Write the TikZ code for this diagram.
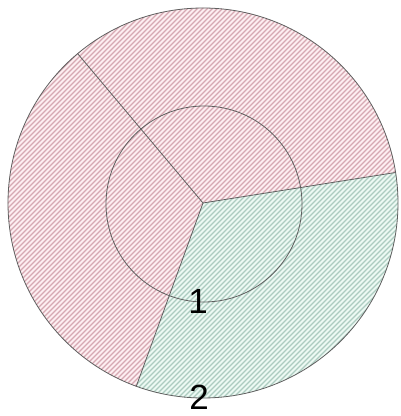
\documentclass[tikz,border=0pt]{standalone}
\usepackage{fontspec}
\setmainfont{Liberation Sans}
\usetikzlibrary{calc}
\definecolor{redbg}{RGB}{253,238,241}
\definecolor{redln}{RGB}{214,168,178}
\definecolor{grnbg}{RGB}{236,249,243}
\definecolor{grnln}{RGB}{172,203,192}
\definecolor{edge}{RGB}{95,95,95}
\tikzset{
  border/.style={draw=edge, line width=0.8pt},
  hatch/.style={line width=1.2pt},
  lbl/.style={inner sep=0pt, font=\fontsize{35}{35}\selectfont}
}
\begin{document}
\begin{tikzpicture}[x=1pt,y=1pt]
\useasboundingbox (0,0) rectangle (401,416);
\fill[white] (0,0) rectangle (401,416);
\coordinate (c) at (203,213);
% red region
\begin{scope}
  \clip (c) -- ++(9:195) arc[start angle=9, end angle=250, radius=195] -- cycle;
  \fill[redbg] (0,0) rectangle (401,416);
  \foreach \k in {-420,-415,...,420}
    \draw[redln,hatch] ($(c)+(\k-250,-250)$) -- ($(c)+(\k+250,250)$);
\end{scope}
% green region
\begin{scope}
  \clip (c) -- ++(250:195) arc[start angle=250, end angle=369, radius=195] -- cycle;
  \fill[grnbg] (0,0) rectangle (401,416);
  \foreach \k in {-420,-415,...,420}
    \draw[grnln,hatch] ($(c)+(\k-250,-250)$) -- ($(c)+(\k+250,250)$);
\end{scope}
% circles and dividers
\draw[border] (c) circle[radius=195];
\draw[border] (204,212) circle[radius=98];
\coordinate (a1) at ($(c)+(130:195)$);
\coordinate (a2) at ($(c)+(9:195)$);
\coordinate (a3) at ($(c)+(250:195)$);
\draw[border] (c) -- (a1);
\draw[border] (c) -- (a2);
\draw[border] (c) -- (a3);
\node[lbl] (n1) at (198,114.5) {1};
\node[lbl] (n2) at (199,19) {2};
\end{tikzpicture}
\end{document}
